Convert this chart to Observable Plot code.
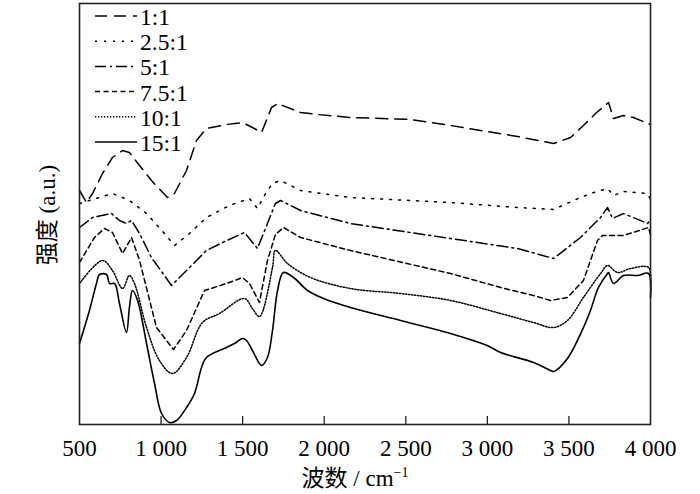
<!DOCTYPE html>
<html><head><meta charset="utf-8">
<script src="https://cdn.jsdelivr.net/npm/d3@7"></script>
<script src="https://cdn.jsdelivr.net/npm/@observablehq/plot@0.6"></script>
<style>body{margin:0;background:#fff}</style>
</head><body><div id="chart"></div>
<script>
const seriesNames = ["1:1", "2.5:1", "5:1", "7.5:1", "10:1", "15:1"];
const xTicks = [500, 1000, 1500, 2000, 2500, 3000, 3500, 4000];

const wn_1 = [500,543,580,641,702,764,806,868,941,1039,1082,1156,1217,1278,1401,1499,1560,1616,1677,1714,1855,1959,2161,2529,2774,3185,3406,3510,3589,3663,3743,3773,3835,3896,3982,4000];
const in_1 = [234,222,231,251,267,274,272,259,244,227,231,254,284,296,300,302,297,292,317,321,312,310,307,305,299,288,281,287,299,311,322,306,309,307,301,300];

const wn_25 = [500,702,806,911,1021,1082,1174,1278,1419,1542,1591,1640,1683,1732,1855,2161,2774,3185,3406,3571,3632,3737,3773,3835,3982,4000];
const in_25 = [221,231,224,211,191,179,191,207,219,226,216,231,241,244,234,227,222,217,215,227,231,236,229,233,231,225];

const wn_5 = [500,580,696,745,788,819,868,941,1064,1156,1278,1377,1511,1591,1701,1732,1855,2161,2774,3185,3406,3571,3694,3737,3767,3835,3982,4000];
const in_5 = [197,207,211,204,201,204,191,167,139,154,174,182,192,176,221,224,214,201,186,176,166,187,207,217,206,211,201,205];

const wn_75 = [500,592,653,702,764,819,868,972,1076,1156,1266,1401,1499,1542,1603,1652,1701,1750,1855,2161,2774,3081,3283,3387,3491,3589,3675,3706,3835,3988,4000];
const in_75 = [162,187,196,192,171,187,164,97,75,94,134,141,147,141,122,164,190,197,187,174,151,137,129,124,127,144,184,189,189,197,190];

const wn_10 = [500,641,702,764,806,837,911,990,1070,1156,1254,1358,1511,1560,1603,1683,1701,1775,1916,2161,2468,2774,3081,3283,3406,3491,3589,3694,3737,3798,3878,3988,4000];
const in_10 = [141,164,154,136,149,141,97,64,51,67,102,111,126,116,108,157,174,161,147,136,131,124,111,102,97,104,127,151,159,152,156,157,140];

const wn_15 = [500,561,604,623,666,684,715,745,788,806,825,856,911,960,1003,1052,1095,1156,1205,1248,1278,1401,1450,1499,1524,1560,1616,1652,1683,1714,1750,1812,1898,1996,2161,2468,2774,2999,3081,3283,3387,3406,3491,3589,3632,3681,3737,3743,3773,3835,3920,3988,4000];
const in_15 = [81,114,141,150,150,141,141,121,92,117,134,124,81,41,11,2,4,17,31,57,67,77,81,86,84,74,59,67,94,134,152,147,134,126,117,104,91,79,72,62,54,53,66,97,114,137,151,152,141,149,149,151,127];

const seriesData = [[wn_1,in_1],[wn_25,in_25],[wn_5,in_5],[wn_75,in_75],[wn_10,in_10],[wn_15,in_15]];
const rows = [];
seriesNames.forEach((s, i) => {
  const [w, v] = seriesData[i];
  w.forEach((x, j) => rows.push({series: s, wn: x, v: v[j]}));
});

const dash = {"1:1":"12,7", "2.5:1":"2,7", "5:1":"11,4,2,4", "7.5:1":"5,3.5", "10:1":"1.3,1.7", "15:1":null};
const curveOf = {"1:1":"linear", "2.5:1":"linear", "5:1":"linear", "7.5:1":"linear", "10:1":"catmull-rom", "15:1":"catmull-rom"};

const fmt = d => d >= 1000 ? `${Math.floor(d/1000)} ${String(d%1000).padStart(3,"0")}` : String(d);
const serif = "Liberation Serif, Times New Roman, Times, DejaVu Serif, Noto Sans CJK SC, serif";

const plot = Plot.plot({
  width: 700, height: 494,
  marginLeft: 79, marginRight: 50, marginTop: 3, marginBottom: 70,
  style: {fontFamily: serif, fontSize: "23px", background: "#fff", color: "#000"},
  x: {domain: [500, 4000], axis: null},
  y: {domain: [0, 421], axis: null},
  marks: [
    ...seriesNames.map(s => Plot.line(rows.filter(r => r.series === s), {
      x: "wn", y: "v", stroke: "#000", strokeWidth: s === "15:1" ? 1.6 : 1.5,
      strokeDasharray: dash[s], curve: curveOf[s]
    })),
    Plot.ruleX(xTicks.slice(1, -1), {y1: 0, y2: 8, stroke: "#222", strokeWidth: 1.3}),
    Plot.frame({stroke: "#222", strokeWidth: 1.6}),
    Plot.axisX({ticks: xTicks, tickSize: 0, tickPadding: 15, tickFormat: fmt, label: null, fontSize: 23, fontFamily: serif})
  ]
});
document.getElementById("chart").appendChild(plot);

const svg = d3.select(plot);

// x title
const xt = svg.append("text").attr("x", 355).attr("y", 486).attr("text-anchor", "middle")
  .style("font-family", serif).attr("font-size", 23).attr("fill", "#000");
xt.append("tspan").text("波数 / cm");
xt.append("tspan").attr("dy", -9).attr("font-size", 14).text("−1");

// y title
svg.append("text").attr("transform", "translate(47,215) rotate(-90)")
  .attr("text-anchor", "middle").attr("dominant-baseline", "central")
  .style("font-family", serif).attr("font-size", 23).attr("fill", "#000")
  .text("强度 (a.u.)");

// legend
const lg = svg.append("g").attr("text-anchor", "start");
seriesNames.forEach((s, i) => {
  const y = 16 + i * 25.2;
  lg.append("line").attr("x1", 95).attr("x2", 137).attr("y1", y).attr("y2", y)
    .attr("stroke", "#000").attr("stroke-width", 1.5)
    .attr("stroke-dasharray", dash[s] || null);
  lg.append("text").attr("x", 140).attr("y", y + 9).attr("text-anchor", "start")
    .style("font-family", serif).attr("font-size", 23.5).attr("fill", "#000").text(s);
});
</script>
</body></html>
